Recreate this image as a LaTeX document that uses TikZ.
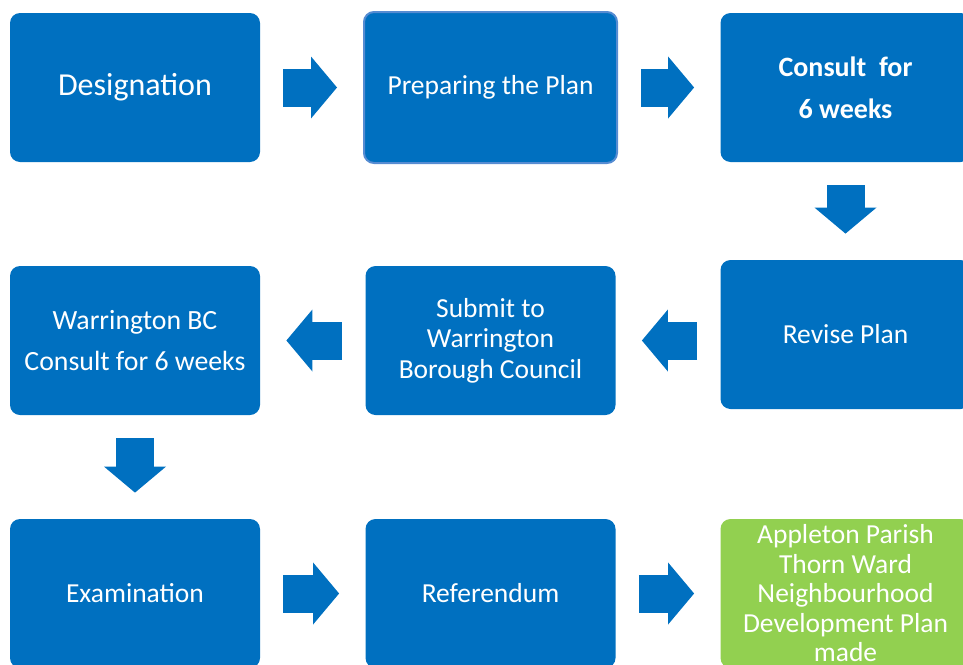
\documentclass[tikz,border=0pt]{standalone}
\usepackage{fontspec}
\setmainfont{Carlito}
\usepackage{tikz}
\usetikzlibrary{arrows.meta}
\definecolor{flowblue}{RGB}{0,112,192}
\definecolor{flowgreen}{RGB}{146,208,80}
\definecolor{prepedge}{RGB}{86,140,210}

\begin{document}
\begin{tikzpicture}[x=0.5pt,y=-0.5pt,
		stage/.style={fill=flowblue,text=white,rounded corners=5pt,minimum width=125pt,minimum height=74.5pt,inner sep=0pt,align=center,font=\fontsize{13.75}{15.25}\selectfont},
		flow/.style={draw=flowblue,line width=19pt,shorten <=11.5pt,shorten >=13pt,-{Triangle[length=13pt,width=31pt,line width=0pt]}}]
			\useasboundingbox (0,0) rectangle (963,664);
			\clip (0,0) rectangle (963,664);

			% first row
			\node[stage,font=\fontsize{16}{19}\selectfont] (desig) at (135,87.5) {Designation};
			\node[stage,draw=prepedge,line width=1pt,minimum width=126.5pt,minimum height=75.5pt] (prep) at (490.5,87.5) {Preparing the Plan};
			\node[stage,font=\fontsize{14}{21}\selectfont\bfseries] (consult) at (845.5,87.5) {Consult\ \ for\\6 weeks};

			% second row
			\node[stage] (rev) at (845.5,334.5) {Revise Plan};
			\node[stage] (sub) at (490.5,340.5) {Submit to\\Warrington\\Borough Council};
			\node[stage,font=\fontsize{13.9}{20.5}\selectfont] (warr) at (135,340.5) {Warrington BC\\Consult for 6 weeks};

			% third row
			\node[stage] (exam) at (135,593.5) {Examination};
			\node[stage] (ref) at (490.5,593.5) {Referendum};
			\node[stage,fill=flowgreen,font=\fontsize{13.75}{14.75}\selectfont] (app) at (845.5,593.5) {Appleton Parish\\Thorn Ward\\Neighbourhood\\Development Plan\\made};

			\draw[flow] (desig) -- (prep);
			\draw[flow] (prep) -- (consult);
			\draw[flow] (consult) -- (rev);
			\draw[flow] (sub.east -| rev.west) -- (sub.east);
			\draw[flow] (sub) -- (warr);
			\draw[flow] (warr) -- (exam);
			\draw[flow] (exam) -- (ref);
			\draw[flow] (ref) -- (app);
\end{tikzpicture}
\end{document}
